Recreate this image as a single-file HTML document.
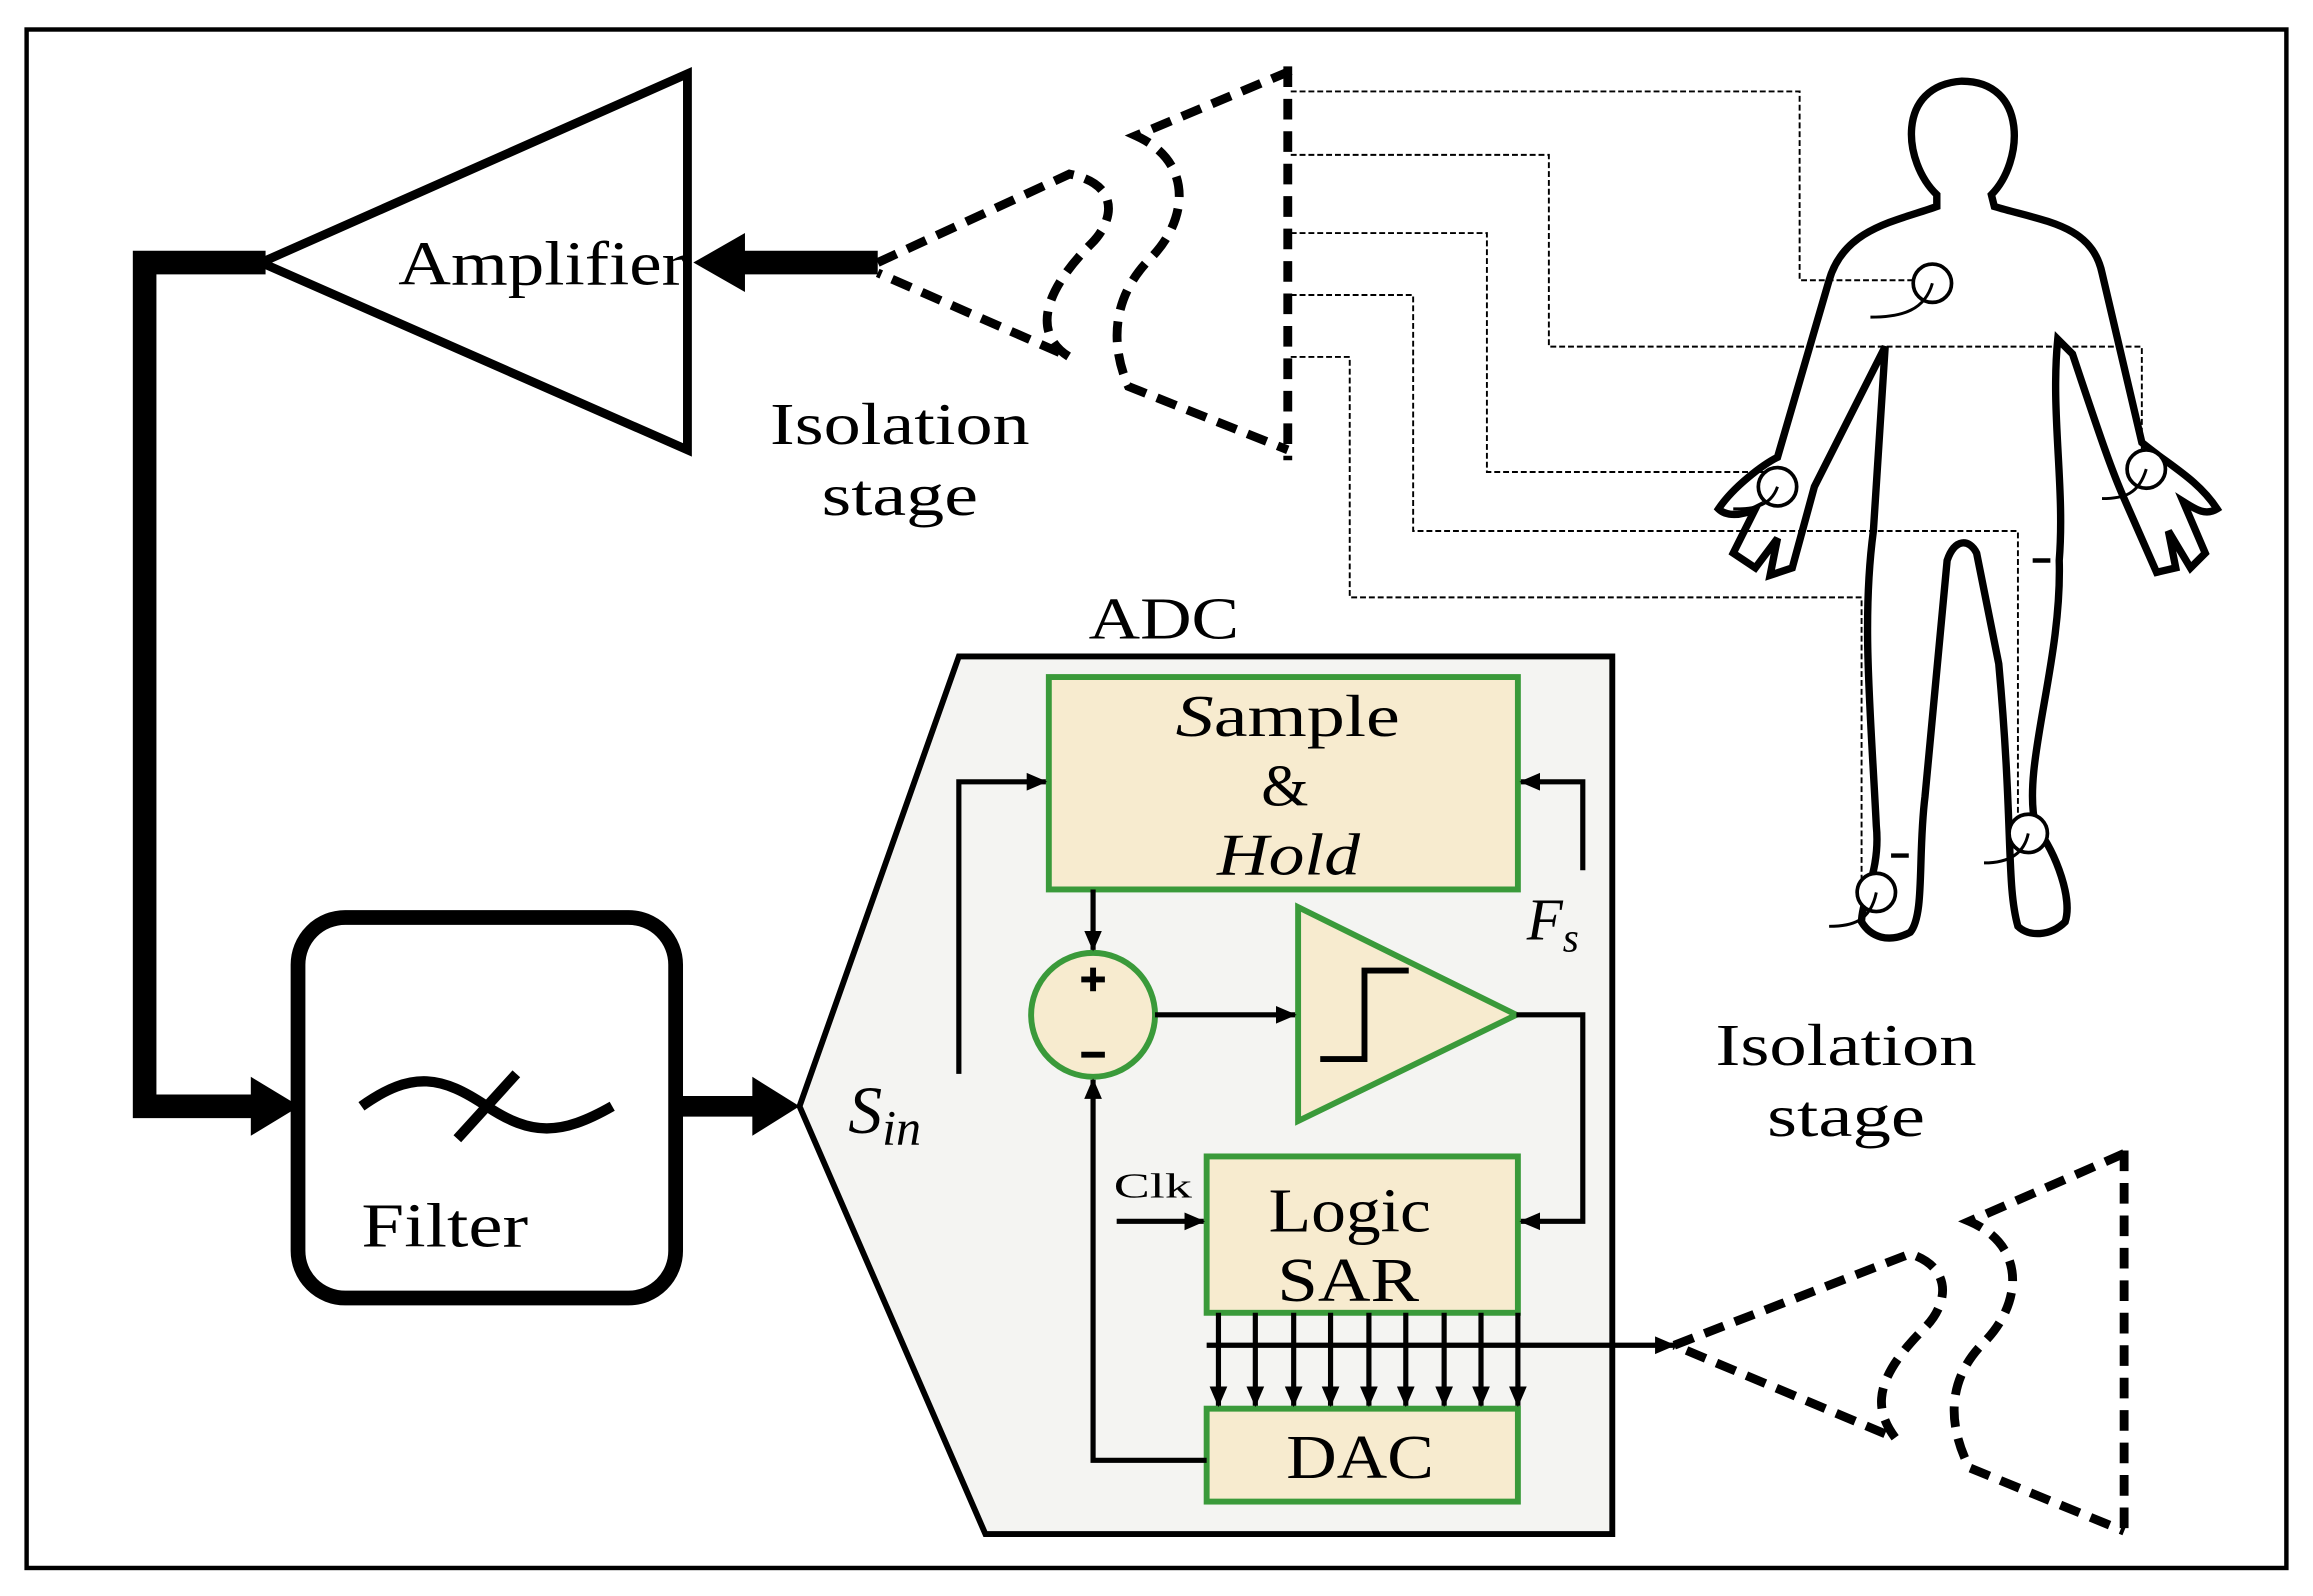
<!DOCTYPE html>
<html><head><meta charset="utf-8"><style>
html,body{margin:0;padding:0;background:#fff;}
svg{display:block;}
text{font-family:"Liberation Serif",serif;fill:#000;}
</style></head><body>
<svg width="2313" height="1596" viewBox="0 0 1568 1082" xmlns="http://www.w3.org/2000/svg">
<defs>
<marker id="ah" markerWidth="14" markerHeight="14" refX="13" refY="7" orient="auto" markerUnits="userSpaceOnUse">
<path d="M0,1 L14,7 L0,13 Z" fill="#000"/></marker>
</defs>
<rect x="18" y="20" width="1532" height="1043" fill="#fff" stroke="#000" stroke-width="3"/>

<!-- Amplifier -->
<polygon points="177,178 466,50 466,305" fill="#fff" stroke="#000" stroke-width="6"/>
<text x="270" y="193" font-size="42" textLength="195" lengthAdjust="spacingAndGlyphs">Amplifier</text>
<line x1="595" y1="178" x2="500" y2="178" stroke="#000" stroke-width="16"/>
<polygon points="470,178 505,158 505,198" fill="#000"/>

<!-- Isolation top -->
<g fill="none" stroke="#000" stroke-width="6" stroke-dasharray="14,8">
<path d="M595,178 L725,118 C760,125 755,150 740,165 C700,205 705,230 725,242 L595,185"/>
<path d="M875,48 L770,92 C810,110 805,150 780,175 C750,205 755,240 765,262 L873,305"/>
<line x1="873" y1="45" x2="873" y2="312"/>
</g>
<text x="522" y="301" font-size="40" textLength="176" lengthAdjust="spacingAndGlyphs">Isolation</text>
<text x="557" y="349" font-size="40" textLength="106" lengthAdjust="spacingAndGlyphs">stage</text>

<!-- thick path amp to filter -->
<polyline points="180,178 98,178 98,750 178,750" fill="none" stroke="#000" stroke-width="16"/>
<polygon points="203,750 170,730 170,770" fill="#000"/>

<!-- Filter -->
<rect x="202" y="622" width="256" height="258" rx="32" fill="#fff" stroke="#000" stroke-width="10"/>
<path d="M245,750 C280,725 300,730 330,750 C360,770 380,770 415,750" fill="none" stroke="#000" stroke-width="7"/>
<line x1="310" y1="772" x2="350" y2="728" stroke="#000" stroke-width="7"/>
<text x="245" y="845" font-size="42" textLength="113" lengthAdjust="spacingAndGlyphs">Filter</text>
<line x1="458" y1="750" x2="515" y2="750" stroke="#000" stroke-width="14"/>
<polygon points="542,750 510,730 510,770" fill="#000"/>

<!-- ADC -->
<polygon points="650,445 1093,445 1093,1040 668,1040 542,750" fill="#f4f4f2" stroke="#000" stroke-width="4"/>
<text x="738" y="433" font-size="40" textLength="102" lengthAdjust="spacingAndGlyphs">ADC</text>

<g fill="#f7ebcf" stroke="#3a9a3a" stroke-width="4">
<rect x="711" y="459" width="318" height="144"/>
<polygon points="880,615 880,760 1028,688"/>
<rect x="818" y="784" width="211" height="106"/>
<rect x="818" y="955" width="211" height="63"/>
<circle cx="741" cy="688" r="42" fill="#f7ebcf"/>
</g>
<text x="797" y="499" font-size="40" textLength="152" lengthAdjust="spacingAndGlyphs"><tspan font-style="italic">S</tspan>ample</text>
<text x="855" y="546" font-size="40" textLength="32" lengthAdjust="spacingAndGlyphs">&amp;</text>
<text x="825" y="593" font-size="40" font-style="italic" textLength="97" lengthAdjust="spacingAndGlyphs">Hold</text>
<text x="860" y="835" font-size="42" textLength="110" lengthAdjust="spacingAndGlyphs">Logic</text>
<text x="866" y="882" font-size="42" textLength="96" lengthAdjust="spacingAndGlyphs">SAR</text>
<text x="872" y="1002" font-size="42" textLength="100" lengthAdjust="spacingAndGlyphs">DAC</text>
<line x1="733" y1="664" x2="749" y2="664" stroke="#000" stroke-width="4"/>
<line x1="741" y1="656" x2="741" y2="672" stroke="#000" stroke-width="4"/>
<line x1="733" y1="715" x2="749" y2="715" stroke="#000" stroke-width="4"/>
<polyline points="895,718 925,718 925,658 955,658" fill="none" stroke="#000" stroke-width="4"/>

<g stroke="#000" stroke-width="3.5" fill="none">
<polyline points="650,728 650,530 709,530" marker-end="url(#ah)"/>
<polyline points="1073,590 1073,530 1031,530" marker-end="url(#ah)"/>
<line x1="741" y1="603" x2="741" y2="644" marker-end="url(#ah)"/>
<line x1="783" y1="688" x2="878" y2="688" marker-end="url(#ah)"/>
<polyline points="1028,688 1073,688 1073,828 1031,828" marker-end="url(#ah)"/>
<line x1="757" y1="828" x2="816" y2="828" marker-end="url(#ah)"/>
<polyline points="818,990 741,990 741,732" marker-end="url(#ah)"/>
<line x1="818" y1="912" x2="1135" y2="912" marker-end="url(#ah)"/>
<line x1="826" y1="890" x2="826" y2="953" marker-end="url(#ah)"/>
<line x1="851" y1="890" x2="851" y2="953" marker-end="url(#ah)"/>
<line x1="877" y1="890" x2="877" y2="953" marker-end="url(#ah)"/>
<line x1="902" y1="890" x2="902" y2="953" marker-end="url(#ah)"/>
<line x1="928" y1="890" x2="928" y2="953" marker-end="url(#ah)"/>
<line x1="953" y1="890" x2="953" y2="953" marker-end="url(#ah)"/>
<line x1="979" y1="890" x2="979" y2="953" marker-end="url(#ah)"/>
<line x1="1004" y1="890" x2="1004" y2="953" marker-end="url(#ah)"/>
<line x1="1029" y1="890" x2="1029" y2="953" marker-end="url(#ah)"/>
</g>
<text x="755" y="812" font-size="24" textLength="53" lengthAdjust="spacingAndGlyphs">Clk</text>
<text x="575" y="768" font-size="46" font-style="italic">S<tspan font-size="34" dy="8">in</tspan></text>
<text x="1035" y="637" font-size="40" font-style="italic">F<tspan font-size="28" dy="8">s</tspan></text>

<!-- Isolation bottom -->
<g fill="none" stroke="#000" stroke-width="6" stroke-dasharray="14,8">
<path d="M1135,912 L1295,850 C1325,860 1320,885 1305,900 C1270,935 1270,955 1285,975 L1135,912"/>
<path d="M1440,782 L1335,828 C1375,845 1370,885 1345,910 C1320,935 1320,965 1335,995 L1440,1038"/>
<line x1="1440" y1="780" x2="1440" y2="1042"/>
</g>
<text x="1163" y="722" font-size="40" textLength="177" lengthAdjust="spacingAndGlyphs">Isolation</text>
<text x="1198" y="770" font-size="40" textLength="107" lengthAdjust="spacingAndGlyphs">stage</text>

<!-- leads -->
<g fill="none" stroke="#000" stroke-width="1.3" stroke-dasharray="4,2">
<polyline points="875,62 1220,62 1220,190 1300,190"/>
<polyline points="875,105 1050,105 1050,235 1452,235 1452,318"/>
<polyline points="875,158 1008,158 1008,320 1200,320"/>
<polyline points="875,200 958,200 958,360 1368,360 1368,560"/>
<polyline points="875,242 915,242 915,405 1262,405 1262,600"/>
</g>

<!-- Human -->
<path d="M1313,132 C1290,110 1285,58 1330,55 C1375,55 1372,110 1350,132 L1352,140 C1385,150 1418,152 1425,185 L1452,300 C1470,315 1490,325 1503,345 C1495,350 1488,345 1480,340 L1495,375 L1485,385 L1470,360 L1475,385 L1462,388 L1440,338 C1432,320 1425,300 1405,240 L1395,230 C1390,280 1400,330 1396,380 C1398,450 1370,520 1380,560 C1395,580 1405,610 1400,625 C1390,635 1375,635 1368,628 C1360,600 1365,560 1355,450 L1340,375 C1335,365 1325,365 1320,380 L1305,540 C1300,580 1305,620 1295,632 C1280,640 1268,635 1262,625 C1262,610 1275,590 1272,560 C1268,480 1262,420 1270,360 L1278,235 L1230,330 L1215,385 L1200,390 L1205,365 L1190,385 L1175,375 L1190,345 C1180,350 1170,350 1165,345 C1175,330 1195,315 1205,310 L1240,190 C1250,155 1285,150 1313,140 Z" fill="none" stroke="#000" stroke-width="5"/>
<g fill="#fff" stroke="#000" stroke-width="2.5">
<circle cx="1310" cy="192" r="13"/>
<circle cx="1205" cy="330" r="13"/>
<circle cx="1455" cy="318" r="13"/>
<circle cx="1375" cy="565" r="13"/>
<circle cx="1272" cy="605" r="13"/>
</g>
<g fill="none" stroke="#000" stroke-width="2">
<path d="M1310,192 C1305,210 1290,215 1268,215"/>
<path d="M1205,330 C1200,345 1185,345 1175,345"/>
<path d="M1455,318 C1450,335 1440,338 1425,338"/>
<path d="M1375,565 C1372,580 1360,585 1345,585"/>
<path d="M1272,605 C1268,625 1255,628 1240,628"/>
</g>
<line x1="1378" y1="380" x2="1390" y2="380" stroke="#000" stroke-width="3"/>
<line x1="1282" y1="580" x2="1294" y2="580" stroke="#000" stroke-width="3"/>
</svg>
</body></html>
